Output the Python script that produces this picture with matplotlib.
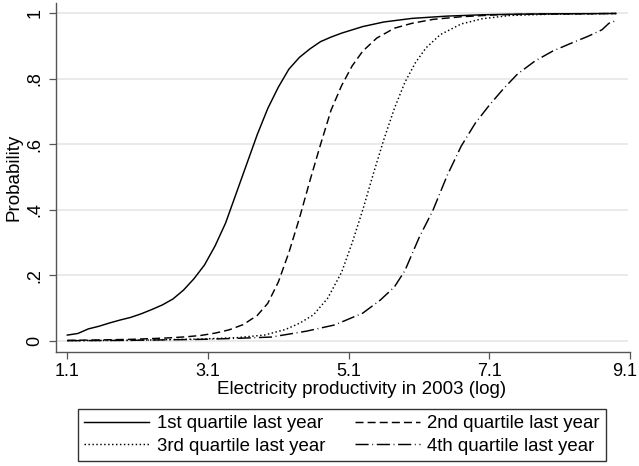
import matplotlib
matplotlib.use("Agg")
import matplotlib.pyplot as plt
from matplotlib.transforms import ScaledTranslation

plt.rcParams['font.family'] = ['Liberation Sans', 'DejaVu Sans']

# ---- data ----
x_q1 = [1.1, 1.25, 1.4, 1.55, 1.7, 1.85, 2.0, 2.15, 2.3, 2.45, 2.6, 2.75, 2.9, 3.05,
        3.2, 3.35, 3.5, 3.65, 3.8, 3.95, 4.1, 4.25, 4.4, 4.55, 4.7, 4.85, 5.0, 5.3,
        5.6, 6.0, 6.5, 7.0, 7.5, 8.0, 8.5, 8.9]
y_q1 = [0.018, 0.023, 0.037, 0.045, 0.055, 0.064, 0.072, 0.083, 0.096, 0.110, 0.128,
        0.155, 0.19, 0.232, 0.29, 0.36, 0.45, 0.54, 0.63, 0.71, 0.775, 0.83, 0.866,
        0.892, 0.914, 0.928, 0.94, 0.96, 0.974, 0.985, 0.992, 0.996, 0.998, 0.999,
        0.9995, 1.0]

x_q2 = [1.1, 1.5, 2.0, 2.5, 2.8, 3.0, 3.2, 3.4, 3.6, 3.8, 3.95, 4.1, 4.25, 4.4, 4.55,
        4.7, 4.85, 5.0, 5.15, 5.3, 5.5, 5.75, 6.0, 6.3, 6.7, 7.2, 7.8, 8.4, 8.9]
y_q2 = [0.002, 0.003, 0.005, 0.009, 0.013, 0.017, 0.024, 0.034, 0.05, 0.078, 0.115,
        0.18, 0.27, 0.375, 0.49, 0.60, 0.705, 0.78, 0.84, 0.885, 0.925, 0.955, 0.97,
        0.982, 0.99, 0.996, 0.998, 0.999, 1.0]

x_q3 = [1.1, 2.0, 3.0, 3.5, 3.9, 4.2, 4.4, 4.6, 4.8, 5.0, 5.15, 5.3, 5.45, 5.6, 5.75,
        5.9, 6.05, 6.2, 6.4, 6.7, 7.0, 7.4, 8.0, 8.5, 8.9]
y_q3 = [0.001, 0.002, 0.006, 0.01, 0.018, 0.035, 0.054, 0.08, 0.13, 0.21, 0.30, 0.40,
        0.51, 0.615, 0.71, 0.79, 0.85, 0.895, 0.935, 0.968, 0.984, 0.994, 0.998,
        0.999, 1.0]

x_q4 = [1.1, 2.0, 3.0, 3.5, 4.0, 4.5, 4.9, 5.3, 5.55, 5.75, 5.9, 6.1, 6.3, 6.5, 6.7,
        6.9, 7.1, 7.3, 7.5, 7.75, 8.0, 8.25, 8.5, 8.7, 8.8, 8.9]
y_q4 = [0.001, 0.002, 0.005, 0.008, 0.012, 0.03, 0.049, 0.085, 0.125, 0.165, 0.215,
        0.315, 0.40, 0.505, 0.595, 0.665, 0.72, 0.77, 0.815, 0.855, 0.885, 0.908,
        0.93, 0.95, 0.97, 0.978]

labels = ["1st quartile last year", "2nd quartile last year",
          "3rd quartile last year", "4th quartile last year"]
x_ticks = [1.1, 3.1, 5.1, 7.1, 9.1]
x_ticklabels = ["1.1", "3.1", "5.1", "7.1", "9.1"]
y_ticks = [0, 0.2, 0.4, 0.6, 0.8, 1.0]
y_ticklabels = ["0", ".2", ".4", ".6", ".8", "1"]
x_title = "Electricity productivity in 2003 (log)"
y_title = "Probability"

# ---- figure ----
W, H = 639, 466
fig = plt.figure(figsize=(W / 100, H / 100), dpi=100)
fig.patch.set_facecolor("white")

ax_l, ax_r, ax_t, ax_b = 56, 630, 3, 352
ax = fig.add_axes([ax_l / W, 1 - ax_b / H, (ax_r - ax_l) / W, (ax_b - ax_t) / H])
ax.set_xlim(0.939, 9.1)
ax.set_ylim(-0.0336, 1.032)

for yv in y_ticks:
    ax.plot([0.939, 9.07], [yv, yv], color="#e6e6e6", lw=1.2, zorder=0,
            solid_capstyle="butt")

lw = 1.05
ax.plot(x_q1, y_q1, color="black", lw=lw, linestyle="-", label=labels[0])
ax.plot(x_q2, y_q2, color="black", lw=lw, linestyle=(0, (5.5, 2.8)), label=labels[1])
ax.plot(x_q3, y_q3, color="black", lw=lw, linestyle=(0, (1.0, 1.7)), label=labels[2])
ax.plot(x_q4, y_q4, color="black", lw=lw, linestyle=(0, (9, 2.5, 0.6, 2.5)), label=labels[3])

for s in ["top", "right"]:
    ax.spines[s].set_visible(False)
for s in ["left", "bottom"]:
    ax.spines[s].set_color("#555555")
    ax.spines[s].set_linewidth(1.0)

ax.set_xticks(x_ticks)
ax.set_xticklabels(x_ticklabels)
ax.set_yticks(y_ticks)
ax.set_yticklabels(y_ticklabels, rotation=90, va="center")
ax.tick_params(axis="both", direction="out", length=5, width=0.9, color="#555555",
               labelsize=13, labelcolor="black")
ax.tick_params(axis="x", pad=3)
ax.tick_params(axis="y", pad=4)

# keep the last x tick label inside the picture, as in the reference
last = ax.get_xticklabels()[-1]
last.set_transform(last.get_transform() + ScaledTranslation(-5 / 100, 0, fig.dpi_scale_trans))

fig.text(362 / W, 1 - 390 / H, x_title, ha="center", va="center", fontsize=13.5)
fig.text(14 / W, 1 - 177 / H, y_title, ha="center", va="center", fontsize=13.5,
         rotation=90)

handles, labs = ax.get_legend_handles_labels()
order = [0, 2, 1, 3]
leg = fig.legend([handles[i] for i in order], [labs[i] for i in order],
                 loc="center", mode="expand",
                 bbox_to_anchor=(78 / W, 1 - 463 / H, (606 - 78) / W, 56 / H), ncol=2,
                 fontsize=13.4, frameon=True, fancybox=False, edgecolor="black",
                 handlelength=3.5, handletextpad=0.4, columnspacing=1.5,
                 labelspacing=0.28, borderpad=0.33, borderaxespad=0)
leg.get_frame().set_linewidth(1.0)

fig.savefig("out.png", dpi=100, facecolor="white")
